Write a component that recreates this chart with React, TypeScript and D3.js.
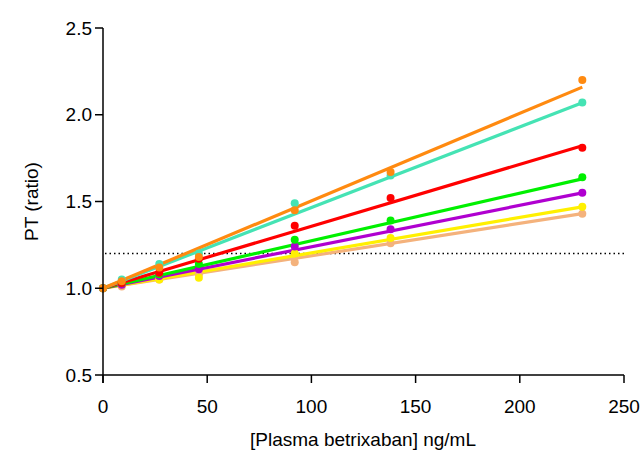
import React from "react";
import * as d3 from "d3";

const doses = [0, 9, 27, 46, 92, 138, 230];
const seriesNames = ["tan", "yellow", "purple", "green", "red", "turquoise", "orange"];
const seriesColors = ["#F4B27C", "#FFF000", "#B000D0", "#00F000", "#FF0000", "#45E3B4", "#FF8A10"];
const tanValues = [1.0, 1.01, 1.05, 1.08, 1.15, 1.26, 1.43];
const yellowValues = [1.0, 1.02, 1.05, 1.06, 1.2, 1.29, 1.47];
const purpleValues = [1.0, 1.02, 1.07, 1.11, 1.24, 1.34, 1.55];
const greenValues = [1.0, 1.03, 1.08, 1.14, 1.28, 1.39, 1.64];
const redValues = [1.0, 1.03, 1.09, 1.17, 1.36, 1.52, 1.81];
const turquoiseValues = [1.0, 1.05, 1.14, 1.2, 1.49, 1.65, 2.07];
const orangeValues = [1.0, 1.04, 1.12, 1.18, 1.45, 1.67, 2.2];
const fitSlopes = [0.00187, 0.00204, 0.00239, 0.00274, 0.00357, 0.00465, 0.00504];
const fitIntercept = 1.0;
const threshold = 1.2;
const xTicks = [0, 50, 100, 150, 200, 250];
const yTicks = [0.5, 1.0, 1.5, 2.0, 2.5];

const allValues = [tanValues, yellowValues, purpleValues, greenValues, redValues, turquoiseValues, orangeValues];

export default function App() {
  const W = 643, H = 451;
  const x = d3.scaleLinear().domain([0, 250]).range([103, 624]);
  const y = d3.scaleLinear().domain([0.5, 2.5]).range([375, 28]);
  const font = "'Liberation Sans', Arial, sans-serif";
  const line = d3.line<[number, number]>().x(d => x(d[0])).y(d => y(d[1]));
  const xMax = d3.max(doses) as number;
  return (
    <svg width={W} height={H} style={{ position: "absolute", left: 0, top: 0, background: "#fff" }} fontFamily={font}>
      <line x1={x(0) + 2} x2={x(250)} y1={y(threshold)} y2={y(threshold)} stroke="#000" strokeWidth={1.5} strokeDasharray="1.5,3" />
      {seriesNames.map((n, i) => (
        <path key={"l" + n} d={line([[0, fitIntercept], [xMax, fitIntercept + fitSlopes[i] * xMax]]) || ""} stroke={seriesColors[i]} strokeWidth={3.2} fill="none" />
      ))}
      {seriesNames.map((n, i) => (
        <g key={"p" + n}>
          {doses.map((d, j) => (
            <circle key={j} cx={x(d)} cy={y(allValues[i][j])} r={4} fill={seriesColors[i]} />
          ))}
        </g>
      ))}
      <line x1={x(0)} x2={x(0)} y1={y(2.5)} y2={383} stroke="#000" strokeWidth={1.5} />
      <line x1={x(0)} x2={x(250)} y1={y(0.5)} y2={y(0.5)} stroke="#000" strokeWidth={1.5} />
      {yTicks.map(t => (
        <g key={"y" + t}>
          <line x1={x(0) - 8} x2={x(0)} y1={y(t)} y2={y(t)} stroke="#000" strokeWidth={1.5} />
          <text x={x(0) - 11} y={y(t)} dy="0.35em" textAnchor="end" fontSize={19} fill="#000">{t.toFixed(1)}</text>
        </g>
      ))}
      {xTicks.map(t => (
        <g key={"x" + t}>
          <line x1={x(t)} x2={x(t)} y1={y(0.5)} y2={383} stroke="#000" strokeWidth={1.5} />
          <text x={x(t)} y={406} dy="0.35em" textAnchor="middle" fontSize={19} fill="#000">{t}</text>
        </g>
      ))}
      <text x={363} y={439} dy="0.35em" textAnchor="middle" fontSize={19} fill="#000">[Plasma betrixaban] ng/mL</text>
      <text transform={`translate(31,${(y(2.5) + y(0.5)) / 2}) rotate(-90)`} dy="0.35em" textAnchor="middle" fontSize={19} fill="#000">PT (ratio)</text>
    </svg>
  );
}
